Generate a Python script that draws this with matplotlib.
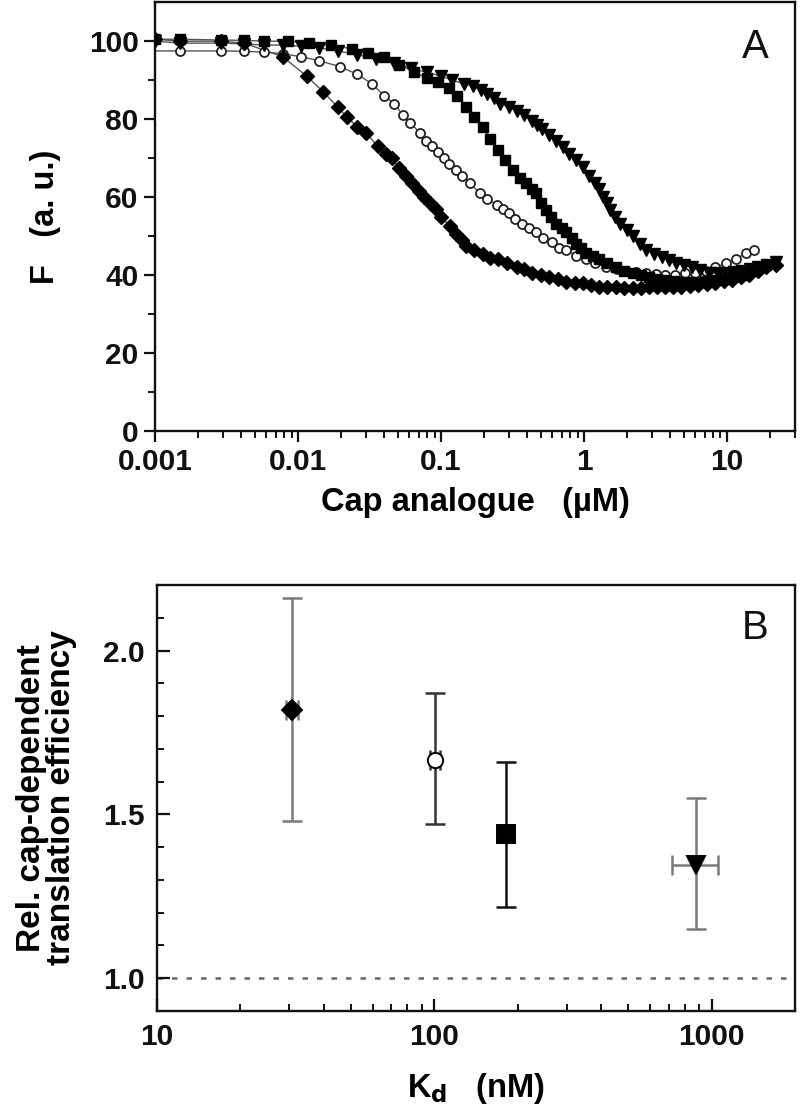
import matplotlib

matplotlib.use("Agg")
import matplotlib.pyplot as plt
from matplotlib.ticker import FixedLocator, FuncFormatter, LogLocator, MultipleLocator, NullFormatter

plt.rcParams["font.family"] = ["Liberation Sans", "DejaVu Sans"]

# ---- panel A: titration curves (F vs cap analogue, uM) ----
dia_x = [0.001, 0.0015, 0.0029, 0.0042, 0.0078, 0.0115, 0.015, 0.019, 0.022, 0.026,
         0.030, 0.036, 0.041, 0.045, 0.051, 0.057, 0.063, 0.070, 0.076, 0.083,
         0.092, 0.10, 0.115, 0.128, 0.14, 0.15, 0.17, 0.195, 0.22, 0.25,
         0.29, 0.34, 0.38, 0.43, 0.5, 0.57, 0.66, 0.75, 0.86, 0.98,
         1.12, 1.27, 1.45, 1.67, 1.9, 2.2, 2.5, 2.85, 3.25, 3.7,
         4.2, 4.8, 5.5, 6.3, 7.2, 8.3, 9.5, 10.9, 12.5, 14.3, 16.4, 18.7, 21.9]
dia_y = [100.5, 100, 100, 99.5, 96, 91, 87, 83, 80.5, 78,
         76.5, 73, 71, 70, 67.5, 65.5, 63.5, 61.5, 60, 58.5,
         57, 55, 52.5, 50.5, 49, 47.5, 46.3, 45.5, 44.5, 44,
         43, 42, 41.5, 40.5, 40, 39.5, 39, 38.3, 38, 38,
         37.5, 37, 37, 37, 36.8, 36.8, 36.8, 37, 37, 37,
         37, 37, 37.2, 37.5, 37.8, 38, 38.5, 38.8, 39.5, 40, 41, 42, 42.6]

circ_x = [0.001, 0.0015, 0.0029, 0.0042, 0.0058, 0.0078, 0.0105, 0.014, 0.0195, 0.026,
          0.033, 0.040, 0.047, 0.054, 0.061, 0.071, 0.079, 0.087, 0.095, 0.105,
          0.114, 0.127, 0.141, 0.16, 0.186, 0.21, 0.245, 0.27, 0.30, 0.33,
          0.37, 0.41, 0.46, 0.52, 0.60, 0.67, 0.75, 0.88, 1.03, 1.2,
          1.42, 1.7, 1.98, 2.3, 2.7, 3.2, 3.7, 4.3, 5.1, 6.0,
          7.1, 8.3, 9.8, 11.5, 13.5, 15.4]
circ_y = [97.5, 97.5, 97.5, 97.4, 97.2, 96.8, 96, 95, 93.5, 91.5,
          89, 86, 84, 81, 79, 76.5, 74.5, 73, 71.5, 70,
          68.6, 67, 65.5, 63.5, 61, 59.5, 58, 57, 56, 54.5,
          53, 52, 51, 49.5, 48.5, 47, 46.4, 45, 44, 43,
          42, 41.5, 41, 40.7, 40.5, 40.2, 40, 40, 40.5, 40.5,
          41, 42, 43, 44, 45.6, 46.4]

sq_x = [0.001, 0.0015, 0.0029, 0.0042, 0.0058, 0.0085, 0.012, 0.017, 0.024, 0.031,
        0.040, 0.051, 0.065, 0.08, 0.095, 0.114, 0.13, 0.15, 0.17, 0.195,
        0.22, 0.25, 0.28, 0.32, 0.355, 0.39, 0.43, 0.46, 0.5, 0.54,
        0.59, 0.64, 0.7, 0.75, 0.82, 0.88, 0.95, 1.03, 1.15, 1.27,
        1.45, 1.67, 1.9, 2.2, 2.5, 2.85, 3.25, 3.7, 4.2, 4.8,
        5.5, 6.3, 7.2, 8.3, 9.5, 10.9, 12.5, 14.3, 16.4, 18.7]
sq_y = [100.5, 100.5, 100.3, 100.2, 100, 100, 99.5, 99, 98, 97,
        96, 94, 92, 90.5, 89.5, 88, 86, 83, 80.5, 78,
        75, 72, 69.5, 67, 65, 63.5, 62, 61, 58.5, 56.6,
        55, 53, 52, 51, 49.5, 48, 47, 45.6, 45, 44,
        43, 42, 41, 40.5, 40, 39.5, 39, 38.8, 38.5, 38.3,
        38.3, 38.3, 38.5, 38.8, 39, 39.5, 40, 41, 41.8, 42.6]

tri_x = [0.001, 0.0015, 0.0029, 0.0042, 0.0058, 0.0078, 0.0105, 0.014, 0.019, 0.026,
         0.035, 0.047, 0.062, 0.08, 0.1, 0.12, 0.145, 0.167, 0.19, 0.21,
         0.235, 0.26, 0.3, 0.34, 0.38, 0.43, 0.47, 0.51, 0.57, 0.64,
         0.71, 0.79, 0.88, 0.98, 1.09, 1.2, 1.28, 1.36, 1.44, 1.51,
         1.65, 1.78, 2.0, 2.2, 2.45, 2.7, 3.1, 3.5, 3.9, 4.4,
         5.0, 5.7, 6.5, 7.5, 8.6, 9.8, 11.2, 12.7, 14.5, 16.6, 19, 21.9]
tri_y = [100, 99.5, 99.5, 99.3, 99, 99, 98.7, 98.3, 97.5, 96.5,
         95.5, 94.3, 93, 92, 91, 90, 89, 88.5, 87.5, 86.5,
         85.5, 84, 83, 82, 81, 79.6, 78.5, 77.5, 76, 74.5,
         72.8, 71, 69.5, 67.6, 65.5, 63.5, 62, 60, 58.5, 56.6,
         55, 53, 51.5, 50, 48, 46.4, 45.5, 44.6, 43.8, 43,
         42.5, 42, 41.3, 40.5, 40.5, 40.5, 40.8, 41, 41.5, 42, 42.7, 43.4]

# ---- panel B: translation efficiency vs Kd (nM) ----
kd = [30.8, 100.7, 182, 877]
kd_lo = [29.3, 96.5, 182, 719]
kd_hi = [32.3, 105, 182, 1054]
eff = [1.82, 1.667, 1.44, 1.345]
eff_lo = [1.48, 1.47, 1.217, 1.15]
eff_hi = [2.16, 1.87, 1.66, 1.55]
b_markers = ["D", "o", "s", "v"]
b_faces = ["black", "white", "black", "black"]
b_errcol = ["#7a7a7a", "#333333", "#111111", "#7a7a7a"]
b_msize = [10, 11, 13, 13]

TICK_FS = 21.5
LABEL_FS = 23.5
INK = "#111111"

fig = plt.figure(figsize=(8.0, 11.05), dpi=100, facecolor="white")
axA = fig.add_axes([0.194, 0.610, 0.800, 0.388])
axB = fig.add_axes([0.196, 0.0851, 0.798, 0.3855])

for ax in (axA, axB):
    for sp in ax.spines.values():
        sp.set_linewidth(1.7)
        sp.set_color(INK)

# --- A ---
fit_col = "#555555"
for xs, ys in ((circ_x, circ_y), (dia_x, dia_y), (sq_x, sq_y), (tri_x, tri_y)):
    axA.plot(xs, ys, "-", color=fit_col, lw=1.0, zorder=2)
axA.plot(circ_x[1:], circ_y[1:], "o", ms=6.5, mfc="white", mec="#222222", mew=1.3, ls="none", zorder=3)
axA.plot(dia_x, dia_y, "D", ms=7.5, color="black", ls="none", zorder=4)
axA.plot(sq_x, sq_y, "s", ms=7.5, color="black", ls="none", zorder=4)
axA.plot(tri_x, tri_y, "v", ms=8.5, color="black", ls="none", zorder=4)

axA.set_xscale("log")
axA.set_xlim(0.001, 30)
axA.set_ylim(0, 110)
axA.xaxis.set_major_locator(FixedLocator([0.001, 0.01, 0.1, 1, 10]))
axA.xaxis.set_major_formatter(FuncFormatter(lambda v, p: f"{v:g}"))
axA.xaxis.set_minor_locator(LogLocator(base=10, subs=range(2, 10), numticks=20))
axA.xaxis.set_minor_formatter(NullFormatter())
axA.yaxis.set_major_locator(FixedLocator([0, 20, 40, 60, 80, 100]))
axA.yaxis.set_minor_locator(FixedLocator([10, 30, 50, 70, 90]))
axA.tick_params(which="both", direction="out", top=False, right=False, colors=INK)
axA.tick_params(which="major", length=8, width=1.6, labelsize=TICK_FS, pad=4)
axA.tick_params(which="minor", length=5, width=1.4)
axA.set_xlabel("Cap analogue   (\u00b5M)", fontsize=LABEL_FS, fontweight="bold", labelpad=8)
axA.set_ylabel("F   (a. u.)", fontsize=LABEL_FS, fontweight="bold")
axA.yaxis.set_label_coords(-0.147, 0.5)
axA.text(0.9375, 0.895, "A", transform=axA.transAxes, fontsize=29,
         ha="center", va="center", color=INK)

# --- B ---
axB.axhline(1.0, color="#666666", lw=1.8, ls=(0, (2.2, 3.6)), zorder=1)
for i in range(len(kd)):
    axB.errorbar(kd[i], eff[i],
                 yerr=[[eff[i] - eff_lo[i]], [eff_hi[i] - eff[i]]],
                 xerr=[[kd[i] - kd_lo[i]], [kd_hi[i] - kd[i]]],
                 fmt="none", ecolor=b_errcol[i], elinewidth=1.8, capsize=7,
                 capthick=1.8, zorder=2)
    axB.plot(kd[i], eff[i], b_markers[i], ms=b_msize[i], mfc=b_faces[i],
             mec="black", mew=1.4, ls="none", zorder=3)

axB.set_xscale("log")
axB.set_xlim(10, 2000)
axB.set_ylim(0.9, 2.2)
axB.xaxis.set_major_locator(FixedLocator([10, 100, 1000]))
axB.xaxis.set_major_formatter(FuncFormatter(lambda v, p: f"{v:g}"))
axB.xaxis.set_minor_locator(LogLocator(base=10, subs=range(2, 10), numticks=20))
axB.xaxis.set_minor_formatter(NullFormatter())
axB.yaxis.set_major_locator(MultipleLocator(0.5))
axB.yaxis.set_major_formatter(FuncFormatter(lambda v, p: f"{v:.1f}"))
axB.yaxis.set_minor_locator(MultipleLocator(0.1))
axB.tick_params(which="both", direction="in", top=False, right=False, colors=INK)
axB.tick_params(which="major", length=9, width=1.6, labelsize=TICK_FS, pad=9)
axB.tick_params(which="minor", length=5, width=1.4)
axB.set_xlabel("K$_\\mathbf{d}$   (nM)", fontsize=LABEL_FS, fontweight="bold", labelpad=14)
axB.set_ylabel("Rel. cap-dependent\ntranslation efficiency", fontsize=24,
               fontweight="bold", linespacing=0.95)
axB.yaxis.set_label_coords(-0.125, 0.5)
axB.text(0.937, 0.899, "B", transform=axB.transAxes, fontsize=29,
         ha="center", va="center", color=INK)

for ax in (axA, axB):
    for lab in ax.get_xticklabels() + ax.get_yticklabels():
        lab.set_fontweight("bold")

fig.savefig("out.png", dpi=100, facecolor="white")
